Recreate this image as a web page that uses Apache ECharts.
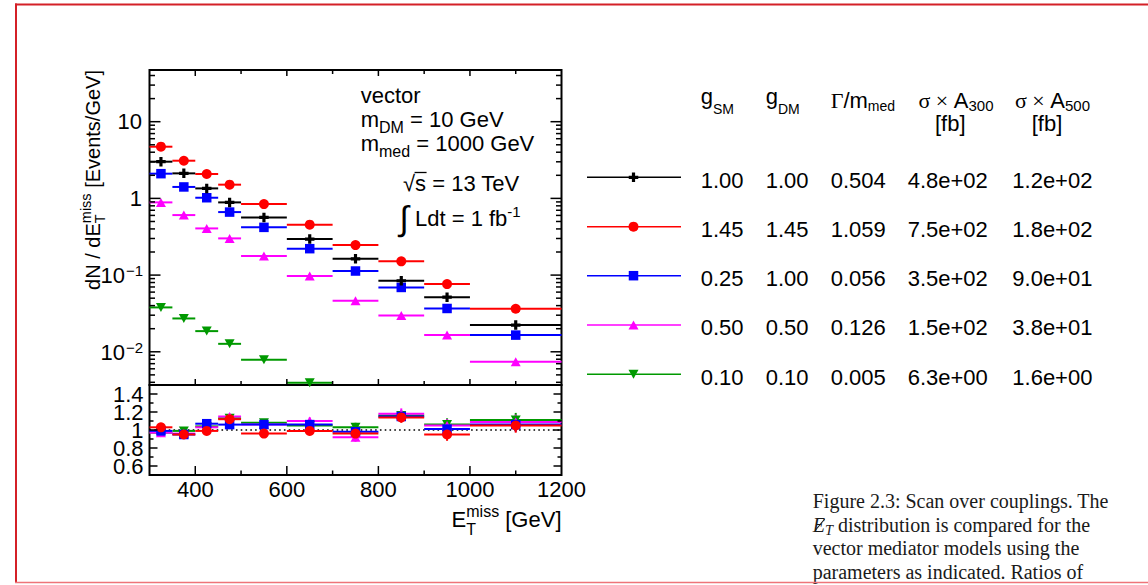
<!DOCTYPE html>
<html>
<head>
<meta charset="utf-8">
<title>Scan over couplings</title>
<script src="https://cdn.jsdelivr.net/npm/echarts@6.0.0/dist/echarts.min.js"></script>
<style>
html,body{margin:0;padding:0;background:#ffffff;overflow:hidden;}
#chart{width:1148px;height:585px;}
</style>
</head>
<body>
<div id="chart"></div>
<script>
// ---------------- data ----------------
const binLo     = [300, 350, 400, 450, 500, 600, 700, 800, 900, 1000];
const binHi     = [350, 400, 450, 500, 600, 700, 800, 900, 1000, 1200];
const binCenter = [325, 375, 425, 475, 550, 650, 750, 850, 950, 1100];

// dN/dE_T^miss [Events/GeV]
const yBlack   = [3.01, 2.12, 1.35, 0.887, 0.565, 0.295, 0.163, 0.0843, 0.0516, 0.0223];
const yRed     = [4.72, 3.10, 2.08, 1.51, 0.843, 0.454, 0.246, 0.151, 0.0763, 0.0364];
const yBlue    = [2.10, 1.41, 1.02, 0.663, 0.419, 0.221, 0.113, 0.0690, 0.0367, 0.0165];
const yMagenta = [0.887, 0.606, 0.406, 0.301, 0.177, 0.0970, 0.0463, 0.0298, 0.0165, 0.00741];
const yGreen   = [0.0379, 0.0272, 0.0186, 0.0127, 0.00787, 0.00394, null, null, null, null];

// ratio panel
const rRed     = [1.03, 0.95, 0.99, 1.12, 0.96, 0.99, 0.96, 1.14, 0.95, 1.05];
const rBlue    = [0.99, 0.95, 1.07, 1.06, 1.06, 1.06, 0.98, 1.15, 1.01, 1.06];
const rMagenta = [0.97, 0.96, 1.03, 1.15, 1.06, 1.10, 0.92, 1.18, 1.05, 1.09];
const rGreen   = [0.97, 0.99, 1.04, 1.13, 1.08, 1.05, 1.03, 1.16, 1.06, 1.11];
const rErr     = [0.02, 0.02, 0.02, 0.03, 0.03, 0.04, 0.05, 0.06, 0.07, 0.08];

// tick labels
const xTickLabels = [400, 600, 800, 1000, 1200];
const ratioTickLabels = ['0.6', '0.8', '1', '1.2', '1.4'];
const yDecades = [0.01, 0.1, 1, 10];
const yDecadeLabels = [['10', '\u22122'], ['10', '\u22121'], ['1', ''], ['10', '']];

// legend table
const tableRows = [
  ['1.00', '1.00', '0.504', '4.8e+02', '1.2e+02'],
  ['1.45', '1.45', '1.059', '7.5e+02', '1.8e+02'],
  ['0.25', '1.00', '0.056', '3.5e+02', '9.0e+01'],
  ['0.50', '0.50', '0.126', '1.5e+02', '3.8e+01'],
  ['0.10', '0.10', '0.005', '6.3e+00', '1.6e+00']
];

const captionLines = [
  'Figure 2.3: Scan over couplings. The',
  ' distribution is compared for the',
  'vector mediator models using the',
  'parameters as indicated. Ratios of'
];

// ---------------- styles / layout ----------------
const FONT = "'Liberation Sans', Arial, Helvetica, sans-serif";
const SERIF = "'Liberation Serif', 'Times New Roman', serif";
const K = 0.3465;
const PLUS = 'path://M3,0H6V3H9V6H6V9H3V6H0V3H3Z';
const INVTRI = 'path://M0,0L10,0L5,9Z';

const styles = {
  black:   {color: '#000000', symbol: PLUS, size: [9.5, 9.5], kind: 'plus'},
  red:     {color: '#ff0000', symbol: 'circle', size: 10, kind: 'circle'},
  blue:    {color: '#0000ff', symbol: 'rect', size: 9.5, kind: 'rect'},
  magenta: {color: '#ff00ff', symbol: 'triangle', size: [10, 9], kind: 'tri'},
  green:   {color: '#009900', symbol: INVTRI, size: [10, 9], kind: 'invtri'}
};

const G0 = {left: 149.5, top: 70, width: 412, height: 315};
const G1 = {left: 149.5, top: 385, width: 412, height: 90};
const yMin = Math.pow(10, -2.433);
const yMax = Math.pow(10, 1.674);

const mctx = document.createElement('canvas').getContext('2d');
function tw(t, size, fam, it) {
  mctx.font = (it ? 'italic ' : '') + size + 'px ' + (fam || FONT);
  return mctx.measureText(t).width;
}
function T(t, x, base, size, o) {
  o = o || {};
  return {
    type: 'text', x: x, y: base - K * size, z: 100, silent: true,
    style: {
      text: t, fontSize: size, fontFamily: o.fam || FONT,
      fontStyle: o.it ? 'italic' : 'normal', fill: o.fill || '#000',
      align: o.align || 'left', verticalAlign: 'middle'
    }
  };
}
function runs(parts, x0, base, o) {
  o = o || {};
  let x = x0; const els = []; const pos = [];
  for (let i = 0; i < parts.length; i++) {
    const p = parts[i];
    const fam = p.fam || o.fam || FONT;
    const w = tw(p.t, p.s, fam, p.it);
    els.push(T(p.t, x, base + (p.dy || 0), p.s, {fam: fam, it: p.it, fill: o.fill}));
    pos.push(x);
    if (p.stack) {
      const q = parts[++i];
      const fq = q.fam || o.fam || FONT;
      const w2 = tw(q.t, q.s, fq, q.it);
      els.push(T(q.t, x, base + (q.dy || 0), q.s, {fam: fq, it: q.it, fill: o.fill}));
      pos.push(x);
      x += Math.max(w, w2);
    } else {
      x += w;
    }
  }
  return {els: els, width: x - x0, pos: pos};
}
function line(x1, y1, x2, y2, color, w, z) {
  return {type: 'line', z: z || 90, silent: true, shape: {x1: x1, y1: y1, x2: x2, y2: y2},
          style: {stroke: color, lineWidth: w}};
}
function marker(kind, cx, cy, color) {
  const s = {fill: color, stroke: null};
  if (kind === 'circle') return {type: 'circle', z: 95, shape: {cx: cx, cy: cy, r: 5}, style: s};
  if (kind === 'rect') return {type: 'rect', z: 95, shape: {x: cx - 4.75, y: cy - 4.75, width: 9.5, height: 9.5}, style: s};
  if (kind === 'tri') return {type: 'polygon', z: 95, shape: {points: [[cx, cy - 4.5], [cx + 5, cy + 4.5], [cx - 5, cy + 4.5]]}, style: s};
  if (kind === 'invtri') return {type: 'polygon', z: 95, shape: {points: [[cx - 5, cy - 4.5], [cx + 5, cy - 4.5], [cx, cy + 4.5]]}, style: s};
  const a = 1.6, b = 4.75;
  return {type: 'polygon', z: 95, shape: {points: [[cx - a, cy - b], [cx + a, cy - b], [cx + a, cy - a], [cx + b, cy - a], [cx + b, cy + a], [cx + a, cy + a], [cx + a, cy + b], [cx - a, cy + b], [cx - a, cy + a], [cx - b, cy + a], [cx - b, cy - a], [cx - a, cy - a]]}, style: s};
}

// ---------------- series builders ----------------
function hbar(gi, vals, color, w, z) {
  const data = [];
  vals.forEach(function (v, i) { if (v != null) data.push([binLo[i], binHi[i], v]); });
  return {
    type: 'custom', xAxisIndex: gi, yAxisIndex: gi, data: data, encode: {x: [0, 1], y: 2},
    clip: true, silent: true, z: z,
    renderItem: function (params, api) {
      const a = api.coord([api.value(0), api.value(2)]);
      const b = api.coord([api.value(1), api.value(2)]);
      return {type: 'line', shape: {x1: a[0], y1: a[1], x2: b[0], y2: b[1]}, style: {stroke: color, lineWidth: w}};
    }
  };
}
function vbar(gi, vals, errs, color, w, z) {
  const data = [];
  vals.forEach(function (v, i) { if (v != null) data.push([binCenter[i], v - errs[i], v + errs[i]]); });
  return {
    type: 'custom', xAxisIndex: gi, yAxisIndex: gi, data: data, encode: {x: 0, y: [1, 2]},
    clip: true, silent: true, z: z,
    renderItem: function (params, api) {
      const a = api.coord([api.value(0), api.value(1)]);
      const b = api.coord([api.value(0), api.value(2)]);
      return {type: 'line', shape: {x1: a[0], y1: a[1], x2: b[0], y2: b[1]}, style: {stroke: color, lineWidth: w}};
    }
  };
}
function pts(gi, vals, st, z) {
  const data = [];
  vals.forEach(function (v, i) { if (v != null) data.push([binCenter[i], v]); });
  return {
    type: 'scatter', xAxisIndex: gi, yAxisIndex: gi, data: data, symbol: st.symbol, symbolSize: st.size,
    itemStyle: {color: st.color, opacity: 1}, silent: true, z: z, clip: true, animation: false
  };
}

const mainOrder = [['green', yGreen], ['magenta', yMagenta], ['blue', yBlue], ['red', yRed], ['black', yBlack]];
const ratioOrder = [['green', rGreen], ['magenta', rMagenta], ['blue', rBlue], ['red', rRed]];

const series = [];
mainOrder.forEach(function (e, k) {
  const st = styles[e[0]];
  series.push(hbar(0, e[1], st.color, 2, 2 + k));
  series.push(pts(0, e[1], st, 10 + k));
});
series.push({
  type: 'line', xAxisIndex: 1, yAxisIndex: 1, data: [[300, 1], [1200, 1]], symbol: 'none', silent: true, z: 1,
  lineStyle: {color: '#000', width: 1.6, type: [1.6, 3.2]}, animation: false
});
ratioOrder.forEach(function (e, k) {
  const st = styles[e[0]];
  series.push(hbar(1, e[1], st.color, 2, 2 + k));
  series.push(vbar(1, e[1], rErr, st.color, 2, 2 + k));
  series.push(pts(1, e[1], st, 10 + k));
});

const chart = echarts.init(document.getElementById('chart'), null, {renderer: 'svg', width: 1148, height: 585});

const noAxisParts = {axisLine: {show: false}, axisTick: {show: false}, splitLine: {show: false}};
chart.setOption({
  animation: false,
  backgroundColor: '#ffffff',
  grid: [
    Object.assign({show: true, borderColor: '#000', borderWidth: 2, backgroundColor: 'transparent', containLabel: false}, G0),
    Object.assign({show: true, borderColor: '#000', borderWidth: 2, backgroundColor: 'transparent', containLabel: false}, G1)
  ],
  xAxis: [
    Object.assign({gridIndex: 0, type: 'value', min: 300, max: 1200, interval: 100, axisLabel: {show: false}}, noAxisParts),
    Object.assign({gridIndex: 1, type: 'value', min: 300, max: 1200, interval: 100,
      axisLabel: {show: true, margin: 3, fontSize: 22, fontFamily: FONT, color: '#000',
        formatter: function (v) { return xTickLabels.indexOf(Math.round(v)) >= 0 ? String(Math.round(v)) : ''; }}}, noAxisParts)
  ],
  yAxis: [
    Object.assign({gridIndex: 0, type: 'log', logBase: 10, min: yMin, max: yMax, axisLabel: {show: false}}, noAxisParts),
    Object.assign({gridIndex: 1, type: 'value', min: 0.5, max: 1.5, interval: 0.1,
      axisLabel: {show: true, margin: 6, fontSize: 22, lineHeight: 16, fontFamily: FONT, color: '#000', hideOverlap: false,
        formatter: function (v) { const s = String(+v.toFixed(1)); return ratioTickLabels.indexOf(s) >= 0 ? s : ''; }}}, noAxisParts)
  ],
  series: series
});

// ---------------- ticks, texts and decorations ----------------
const g = [];
function P(gi, x, y) { return chart.convertToPixel({gridIndex: gi}, [x, y]); }

const tl = P(0, 300, yMax), br = P(0, 1200, yMin);
const L = tl[0], R = br[0], TOP = tl[1], B0 = br[1];
const r2 = P(1, 1200, 0.5);
const B1 = r2[1];
const TK = 1.5;

// main y ticks (log, 1..9 per decade)
for (let n = -3; n <= 1; n++) {
  for (let k = 1; k <= 9; k++) {
    const v = k * Math.pow(10, n);
    if (v <= yMin || v >= yMax) continue;
    const y = P(0, 300, v)[1];
    const len = k === 1 ? 11 : 5.5;
    g.push(line(L, y, L + len, y, '#000', TK));
    g.push(line(R - len, y, R, y, '#000', TK));
  }
}
// x ticks
for (let v = 400; v < 1200; v += 100) {
  const x = P(0, v, 1)[0];
  const major = v % 200 === 0;
  const lm = major ? 6 : 4;
  g.push(line(x, TOP, x, TOP + lm, '#000', TK));
  g.push(line(x, B0 - lm, x, B0, '#000', TK));
  const lr = major ? 9 : 4.5;
  g.push(line(x, B1 - lr, x, B1, '#000', TK));
}
// ratio y ticks
for (let i = 6; i <= 14; i++) {
  const v = i / 10;
  const y = P(1, 300, v)[1];
  const len = i % 2 === 0 ? 8 : 4;
  g.push(line(L, y, L + len, y, '#000', TK));
  g.push(line(R - len, y, R, y, '#000', TK));
}

// main y decade labels
yDecades.forEach(function (v, i) {
  const p = P(0, 300, v);
  const mainT = yDecadeLabels[i][0], supT = yDecadeLabels[i][1];
  const base = p[1] + 0.358 * 22;
  const wSup = supT ? tw(supT, 15) : 0;
  const right = L - 7.5;
  g.push(T(mainT, right - wSup, base, 22, {align: 'right'}));
  if (supT) g.push(T(supT, right - wSup + 1, base - 7, 15));
});

// y axis title (rotated)
(function () {
  const r = runs([{t: 'dN / dE', s: 20}, {t: 'miss', s: 14.5, dy: -9, stack: true}, {t: 'T', s: 14.5, dy: 5}, {t: ' [Events/GeV]', s: 20}], 0, 0);
  g.push({type: 'group', x: 100, y: 70 + r.width, rotation: Math.PI / 2, children: r.els});
})();

// x axis title
(function () {
  const parts = [{t: 'E', s: 22}, {t: 'miss', s: 16, dy: -10, stack: true}, {t: 'T', s: 16, dy: 8}, {t: ' [GeV]', s: 22}];
  const w = runs(parts, 0, 0).width;
  runs(parts, R - w, 526.7).els.forEach(function (e) { g.push(e); });
})();

// annotations
g.push(T('vector', 360.7, 102.7, 22));
runs([{t: 'm', s: 22}, {t: 'DM', s: 16, dy: 6}, {t: ' = 10 GeV', s: 22}], 360.7, 126.7).els.forEach(function (e) { g.push(e); });
runs([{t: 'm', s: 22}, {t: 'med', s: 16, dy: 6}, {t: ' = 1000 GeV', s: 22}], 360.7, 150.7).els.forEach(function (e) { g.push(e); });
(function () {
  const r = runs([{t: '\u221A', s: 22}, {t: 's', s: 22}, {t: ' = 13 TeV', s: 22}], 403, 190.7);
  r.els.forEach(function (e) { g.push(e); });
  const sx = r.pos[1], sw = tw('s', 22);
  g.push(line(sx - 0.5, 172.5, sx + sw + 0.5, 172.5, '#000', 1.3));
})();
g.push(T('\u222B', 399.5, 230, 34));
runs([{t: 'Ldt = 1 fb', s: 22}, {t: '-1', s: 15, dy: -9}], 415, 225.7).els.forEach(function (e) { g.push(e); });

// legend table
const colX = [700.7, 765.7, 830.7, 907.7, 1012.3];
const rowY = [177.3, 226.7, 275.7, 325, 374.3];
const legendKeys = ['black', 'red', 'blue', 'magenta', 'green'];
rowY.forEach(function (y, i) {
  const st = styles[legendKeys[i]];
  g.push(line(587, y, 681, y, st.color, 1.6));
  g.push(marker(st.kind, 633.5, y, st.color));
  tableRows[i].forEach(function (txt, j) { g.push(T(txt, colX[j], y + 10.4, 22)); });
});
// headers
runs([{t: 'g', s: 22}, {t: 'SM', s: 14, dy: 9}], colX[0], 104.5).els.forEach(function (e) { g.push(e); });
runs([{t: 'g', s: 22}, {t: 'DM', s: 14, dy: 9}], colX[1], 104.5).els.forEach(function (e) { g.push(e); });
runs([{t: '\u0393', s: 22, fam: SERIF}, {t: '/m', s: 22}, {t: 'med', s: 14, dy: 3}], colX[2], 108).els.forEach(function (e) { g.push(e); });
runs([{t: '\u03C3', s: 22, fam: SERIF}, {t: ' \u00D7 ', s: 22, fam: SERIF}, {t: 'A', s: 22}, {t: '300', s: 15, dy: 3}], 918.5, 108).els.forEach(function (e) { g.push(e); });
runs([{t: '\u03C3', s: 22, fam: SERIF}, {t: ' \u00D7 ', s: 22, fam: SERIF}, {t: 'A', s: 22}, {t: '500', s: 15, dy: 3}], 1015, 108).els.forEach(function (e) { g.push(e); });
g.push(T('[fb]', 935, 131, 22));
g.push(T('[fb]', 1031.7, 131, 22));

// caption
(function () {
  const cs0 = 18;
  const cs = Math.max(16, Math.min(20, cs0 * 299 / tw(captionLines[0], cs0, SERIF)));
  const bases = [508, 531.5, 555, 578.5];
  const fill = '#1a1a1a';
  g.push(T(captionLines[0], 812.7, bases[0], cs, {fam: SERIF, fill: fill}));
  const r = runs([{t: 'E', s: cs, it: true}, {t: 'T', s: cs * 0.72, it: true, dy: 3}, {t: captionLines[1], s: cs}], 812.7, bases[1], {fam: SERIF, fill: fill});
  r.els.forEach(function (e) { g.push(e); });
  g.push(line(812.7 + 2.5, bases[1] - 1, 812.7 + 12, bases[1] - 12.5, fill, 1.1));
  g.push(T(captionLines[2], 812.7, bases[2], cs, {fam: SERIF, fill: fill}));
  g.push(T(captionLines[3], 812.7, bases[3], cs, {fam: SERIF, fill: fill}));
})();

// red frame of the page annotation
g.push(line(15, 4.5, 1148, 4.5, '#d42027', 2, 120));
g.push(line(16, 3.5, 16, 583, '#d42027', 2, 120));
g.push(line(15, 582.5, 1148, 582.5, '#ee7479', 1.5, 120));

chart.setOption({graphic: {elements: g}});
</script>
</body>
</html>
